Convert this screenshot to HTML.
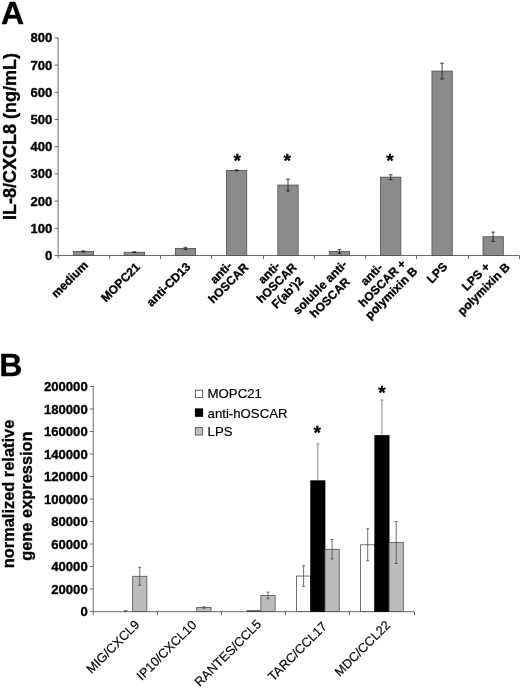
<!DOCTYPE html>
<html><head><meta charset="utf-8"><title>Figure</title>
<style>
html,body{margin:0;padding:0;background:#fff;}
body{width:520px;height:689px;overflow:hidden;font-family:"Liberation Sans",sans-serif;}
svg{display:block;}
svg text{font-family:"Liberation Sans",sans-serif;fill:#000;stroke:#000;stroke-width:0.35px;stroke-linejoin:round;}
svg text.r{stroke-width:0.18px;}
svg line,svg path,svg rect{stroke-width:1px;}
</style></head><body>
<svg width="520" height="689" viewBox="0 0 520 689">
<defs><filter id="soft" x="0" y="0" width="520" height="689" filterUnits="userSpaceOnUse"><feGaussianBlur stdDeviation="0.4"/></filter></defs>
<rect width="520" height="689" fill="#ffffff" stroke="none"/>
<g filter="url(#soft)">
<!-- panel A -->
<text x="1.0" y="24.3" font-size="32" font-weight="bold">A</text>
<text transform="translate(15.7,136.4) rotate(-90)" text-anchor="middle" font-size="18" font-weight="bold">IL-8/CXCL8 (ng/mL)</text>
<line x1="58.1" y1="37.40" x2="58.1" y2="258.5" stroke="#6a6a6a"/>
<line x1="57.6" y1="255.5" x2="519.35" y2="255.5" stroke="#6a6a6a"/>
<line x1="54.6" y1="255.50" x2="58.1" y2="255.50" stroke="#6a6a6a"/>
<text x="52.4" y="260.00" text-anchor="end" font-size="13.1" font-weight="bold">0</text>
<line x1="54.6" y1="228.30" x2="58.1" y2="228.30" stroke="#6a6a6a"/>
<text x="52.4" y="232.80" text-anchor="end" font-size="13.1" font-weight="bold">100</text>
<line x1="54.6" y1="201.10" x2="58.1" y2="201.10" stroke="#6a6a6a"/>
<text x="52.4" y="205.60" text-anchor="end" font-size="13.1" font-weight="bold">200</text>
<line x1="54.6" y1="173.90" x2="58.1" y2="173.90" stroke="#6a6a6a"/>
<text x="52.4" y="178.40" text-anchor="end" font-size="13.1" font-weight="bold">300</text>
<line x1="54.6" y1="146.70" x2="58.1" y2="146.70" stroke="#6a6a6a"/>
<text x="52.4" y="151.20" text-anchor="end" font-size="13.1" font-weight="bold">400</text>
<line x1="54.6" y1="119.50" x2="58.1" y2="119.50" stroke="#6a6a6a"/>
<text x="52.4" y="124.00" text-anchor="end" font-size="13.1" font-weight="bold">500</text>
<line x1="54.6" y1="92.30" x2="58.1" y2="92.30" stroke="#6a6a6a"/>
<text x="52.4" y="96.80" text-anchor="end" font-size="13.1" font-weight="bold">600</text>
<line x1="54.6" y1="65.10" x2="58.1" y2="65.10" stroke="#6a6a6a"/>
<text x="52.4" y="69.60" text-anchor="end" font-size="13.1" font-weight="bold">700</text>
<line x1="54.6" y1="37.90" x2="58.1" y2="37.90" stroke="#6a6a6a"/>
<text x="52.4" y="42.40" text-anchor="end" font-size="13.1" font-weight="bold">800</text>
<line x1="109.50" y1="255.5" x2="109.50" y2="259.0" stroke="#6a6a6a"/>
<line x1="160.50" y1="255.5" x2="160.50" y2="259.0" stroke="#6a6a6a"/>
<line x1="211.50" y1="255.5" x2="211.50" y2="259.0" stroke="#6a6a6a"/>
<line x1="263.50" y1="255.5" x2="263.50" y2="259.0" stroke="#6a6a6a"/>
<line x1="314.50" y1="255.5" x2="314.50" y2="259.0" stroke="#6a6a6a"/>
<line x1="365.50" y1="255.5" x2="365.50" y2="259.0" stroke="#6a6a6a"/>
<line x1="416.50" y1="255.5" x2="416.50" y2="259.0" stroke="#6a6a6a"/>
<line x1="468.50" y1="255.5" x2="468.50" y2="259.0" stroke="#6a6a6a"/>
<line x1="519.50" y1="255.5" x2="519.50" y2="259.0" stroke="#6a6a6a"/>
<rect x="73.35" y="251.42" width="20.3" height="4.08" fill="#8b8b8b" stroke="#4c4c4c" style="stroke-width:0.8px"/>
<path d="M83.50 250.88V251.96M81.60 250.88H85.40M81.60 251.96H85.40" stroke="#101010" fill="none" style="stroke-width:0.75px"/>
<rect x="124.15" y="252.24" width="20.3" height="3.26" fill="#8b8b8b" stroke="#4c4c4c" style="stroke-width:0.8px"/>
<path d="M134.30 251.83V252.64M132.40 251.83H136.20M132.40 252.64H136.20" stroke="#101010" fill="none" style="stroke-width:0.75px"/>
<rect x="175.35" y="248.43" width="20.3" height="7.07" fill="#8b8b8b" stroke="#4c4c4c" style="stroke-width:0.8px"/>
<path d="M185.50 247.34V249.52M183.60 247.34H187.40M183.60 249.52H187.40" stroke="#101010" fill="none" style="stroke-width:0.75px"/>
<rect x="226.45" y="170.36" width="20.3" height="85.14" fill="#8b8b8b" stroke="#4c4c4c" style="stroke-width:0.8px"/>
<path d="M236.60 169.82V170.91M234.70 169.82H238.50M234.70 170.91H238.50" stroke="#101010" fill="none" style="stroke-width:0.75px"/>
<text x="237.3" y="167.0" text-anchor="middle" font-size="19" font-weight="bold">*</text>
<rect x="277.85" y="185.05" width="20.3" height="70.45" fill="#8b8b8b" stroke="#4c4c4c" style="stroke-width:0.8px"/>
<path d="M288.00 179.07V191.04M286.10 179.07H289.90M286.10 191.04H289.90" stroke="#101010" fill="none" style="stroke-width:0.75px"/>
<text x="287.1" y="167.0" text-anchor="middle" font-size="19" font-weight="bold">*</text>
<rect x="329.25" y="251.42" width="20.3" height="4.08" fill="#8b8b8b" stroke="#4c4c4c" style="stroke-width:0.8px"/>
<path d="M339.40 249.52V253.32M337.50 249.52H341.30M337.50 253.32H341.30" stroke="#101010" fill="none" style="stroke-width:0.75px"/>
<rect x="380.55" y="177.16" width="20.3" height="78.34" fill="#8b8b8b" stroke="#4c4c4c" style="stroke-width:0.8px"/>
<path d="M390.70 174.72V179.61M388.80 174.72H392.60M388.80 179.61H392.60" stroke="#101010" fill="none" style="stroke-width:0.75px"/>
<text x="390.0" y="167.0" text-anchor="middle" font-size="19" font-weight="bold">*</text>
<rect x="431.95" y="71.08" width="20.3" height="184.42" fill="#8b8b8b" stroke="#4c4c4c" style="stroke-width:0.8px"/>
<path d="M442.10 63.20V78.97M440.20 63.20H444.00M440.20 78.97H444.00" stroke="#101010" fill="none" style="stroke-width:0.75px"/>
<rect x="483.00" y="236.73" width="20.3" height="18.77" fill="#8b8b8b" stroke="#4c4c4c" style="stroke-width:0.8px"/>
<path d="M493.15 232.11V241.36M491.25 232.11H495.05M491.25 241.36H495.05" stroke="#101010" fill="none" style="stroke-width:0.75px"/>
<g font-size="12" font-weight="bold" text-anchor="end">
<text transform="translate(88.7,265.9) rotate(-45)">medium</text>
<text transform="translate(140.8,267.8) rotate(-45)">MOPC21</text>
<text transform="translate(191.1,267.6) rotate(-45)">anti-CD13</text>
<text transform="translate(232.8,266.6) rotate(-45)">anti-</text>
<text transform="translate(249.2,268.2) rotate(-45)">hOSCAR</text>
<text transform="translate(280.9,266.6) rotate(-45)">anti-</text>
<text transform="translate(297.4,268.0) rotate(-45)">hOSCAR</text>
<text transform="translate(304.1,281.8) rotate(-45)">F(ab')2</text>
<text transform="translate(347.9,265.2) rotate(-45)">soluble anti-</text>
<text transform="translate(350.7,282.6) rotate(-45)">hOSCAR</text>
<text transform="translate(383.5,268.3) rotate(-45)">anti-</text>
<text transform="translate(406.6,264.5) rotate(-45)">hOSCAR +</text>
<text transform="translate(418.1,271.9) rotate(-45)">polymixin B</text>
<text transform="translate(448.2,267.4) rotate(-45)">LPS</text>
<text transform="translate(490.6,267.6) rotate(-45)">LPS +</text>
<text transform="translate(510.6,267.8) rotate(-45)">polymixin B</text>
</g>
<!-- panel B -->
<text x="-0.8" y="375.5" font-size="32" font-weight="bold">B</text>
<text transform="translate(13.7,494) rotate(-90)" text-anchor="middle" font-size="16.4" font-weight="bold">normalized relative</text>
<text transform="translate(32.4,496.1) rotate(-90)" text-anchor="middle" font-size="16.4" font-weight="bold">gene expression</text>
<line x1="93.2" y1="386.0" x2="93.2" y2="614.7" stroke="#6a6a6a"/>
<line x1="92.7" y1="611.7" x2="414.0" y2="611.7" stroke="#6a6a6a"/>
<line x1="90.0" y1="611.50" x2="93.5" y2="611.50" stroke="#6a6a6a"/>
<text x="87.7" y="616.00" text-anchor="end" font-size="13.1" font-weight="bold">0</text>
<line x1="90.0" y1="589.00" x2="93.5" y2="589.00" stroke="#6a6a6a"/>
<text x="87.7" y="593.50" text-anchor="end" font-size="13.1" font-weight="bold">20000</text>
<line x1="90.0" y1="566.50" x2="93.5" y2="566.50" stroke="#6a6a6a"/>
<text x="87.7" y="571.00" text-anchor="end" font-size="13.1" font-weight="bold">40000</text>
<line x1="90.0" y1="544.00" x2="93.5" y2="544.00" stroke="#6a6a6a"/>
<text x="87.7" y="548.50" text-anchor="end" font-size="13.1" font-weight="bold">60000</text>
<line x1="90.0" y1="521.50" x2="93.5" y2="521.50" stroke="#6a6a6a"/>
<text x="87.7" y="526.00" text-anchor="end" font-size="13.1" font-weight="bold">80000</text>
<line x1="90.0" y1="499.00" x2="93.5" y2="499.00" stroke="#6a6a6a"/>
<text x="87.7" y="503.50" text-anchor="end" font-size="13.1" font-weight="bold">100000</text>
<line x1="90.0" y1="476.50" x2="93.5" y2="476.50" stroke="#6a6a6a"/>
<text x="87.7" y="481.00" text-anchor="end" font-size="13.1" font-weight="bold">120000</text>
<line x1="90.0" y1="454.00" x2="93.5" y2="454.00" stroke="#6a6a6a"/>
<text x="87.7" y="458.50" text-anchor="end" font-size="13.1" font-weight="bold">140000</text>
<line x1="90.0" y1="431.50" x2="93.5" y2="431.50" stroke="#6a6a6a"/>
<text x="87.7" y="436.00" text-anchor="end" font-size="13.1" font-weight="bold">160000</text>
<line x1="90.0" y1="409.00" x2="93.5" y2="409.00" stroke="#6a6a6a"/>
<text x="87.7" y="413.50" text-anchor="end" font-size="13.1" font-weight="bold">180000</text>
<line x1="90.0" y1="386.50" x2="93.5" y2="386.50" stroke="#6a6a6a"/>
<text x="87.7" y="391.00" text-anchor="end" font-size="13.1" font-weight="bold">200000</text>
<line x1="157.50" y1="611.7" x2="157.50" y2="615.2" stroke="#6a6a6a"/>
<line x1="221.50" y1="611.7" x2="221.50" y2="615.2" stroke="#6a6a6a"/>
<line x1="285.50" y1="611.7" x2="285.50" y2="615.2" stroke="#6a6a6a"/>
<line x1="349.50" y1="611.7" x2="349.50" y2="615.2" stroke="#6a6a6a"/>
<line x1="414.50" y1="611.7" x2="414.50" y2="615.2" stroke="#6a6a6a"/>
<rect x="195.4" y="390.20" width="7.2" height="7.4" fill="#ffffff" stroke="#606060"/>
<text x="207.6" y="397.80" font-size="13.2" class="r">MOPC21</text>
<rect x="195.4" y="408.90" width="7.2" height="7.4" fill="#000000" stroke="#000000"/>
<text x="207.6" y="417.70" font-size="13.2" class="r">anti-hOSCAR</text>
<rect x="195.4" y="427.60" width="7.2" height="7.4" fill="#c0c0c0" stroke="#606060"/>
<text x="207.6" y="436.00" font-size="13.2" class="r">LPS</text>
<rect x="123.95" y="610.40" width="3.2" height="1.1" fill="#222" stroke="none"/>
<rect x="132.67" y="576.29" width="14.24" height="35.21" fill="#bcbcbc" stroke="#484848" style="stroke-width:0.75px"/>
<path d="M139.79 567.29V585.29M138.29 567.29H141.29M138.29 585.29H141.29" stroke="#404040" fill="none" style="stroke-width:0.75px"/>
<rect x="196.77" y="607.56" width="14.24" height="3.94" fill="#bcbcbc" stroke="#484848" style="stroke-width:0.75px"/>
<path d="M203.89 606.89V608.24M202.39 606.89H205.39M202.39 608.24H205.39" stroke="#404040" fill="none" style="stroke-width:0.75px"/>
<rect x="246.63" y="610.40" width="14.24" height="1.1" fill="#111" stroke="none"/>
<rect x="260.87" y="595.41" width="14.24" height="16.09" fill="#bcbcbc" stroke="#484848" style="stroke-width:0.75px"/>
<path d="M267.99 592.15V598.67M266.49 592.15H269.49M266.49 598.67H269.49" stroke="#404040" fill="none" style="stroke-width:0.75px"/>
<rect x="296.49" y="576.06" width="14.24" height="35.44" fill="#ffffff" stroke="#484848" style="stroke-width:0.75px"/>
<path d="M303.61 565.71V586.41M302.11 565.71H305.11M302.11 586.41H305.11" stroke="#404040" fill="none" style="stroke-width:0.75px"/>
<rect x="310.73" y="480.77" width="14.24" height="130.73" fill="#000000" stroke="#000000" style="stroke-width:0.75px"/>
<path d="M317.85 443.88V480.77M316.35 443.88H319.35" stroke="#7a7a7a" fill="none" style="stroke-width:0.9px"/>
<text x="317.1" y="438.9" text-anchor="middle" font-size="19" font-weight="bold">*</text>
<rect x="324.97" y="549.29" width="14.24" height="62.21" fill="#bcbcbc" stroke="#484848" style="stroke-width:0.75px"/>
<path d="M332.09 539.61V558.96M330.59 539.61H333.59M330.59 558.96H333.59" stroke="#404040" fill="none" style="stroke-width:0.75px"/>
<rect x="360.59" y="544.79" width="14.24" height="66.71" fill="#ffffff" stroke="#484848" style="stroke-width:0.75px"/>
<path d="M367.71 528.81V560.76M366.21 528.81H369.21M366.21 560.76H369.21" stroke="#404040" fill="none" style="stroke-width:0.75px"/>
<rect x="374.83" y="435.44" width="14.24" height="176.06" fill="#000000" stroke="#000000" style="stroke-width:0.75px"/>
<path d="M381.95 400.00V435.44M380.45 400.00H383.45" stroke="#7a7a7a" fill="none" style="stroke-width:0.9px"/>
<text x="381.9" y="398.9" text-anchor="middle" font-size="19" font-weight="bold">*</text>
<rect x="389.07" y="542.54" width="14.24" height="68.96" fill="#bcbcbc" stroke="#484848" style="stroke-width:0.75px"/>
<path d="M396.19 521.61V563.46M394.69 521.61H397.69M394.69 563.46H397.69" stroke="#404040" fill="none" style="stroke-width:0.75px"/>
<g font-size="12.8" text-anchor="end">
<text class="r" transform="translate(140.3,625.5) rotate(-45)">MIG/CXCL9</text>
<text class="r" transform="translate(197.2,625.6) rotate(-45)">IP10/CXCL10</text>
<text class="r" transform="translate(262.1,625.0) rotate(-45)">RANTES/CCL5</text>
<text class="r" transform="translate(327.9,627.1) rotate(-45)">TARC/CCL17</text>
<text class="r" transform="translate(391.0,626.0) rotate(-45)">MDC/CCL22</text>
</g>
</g>
</svg>
</body></html>
